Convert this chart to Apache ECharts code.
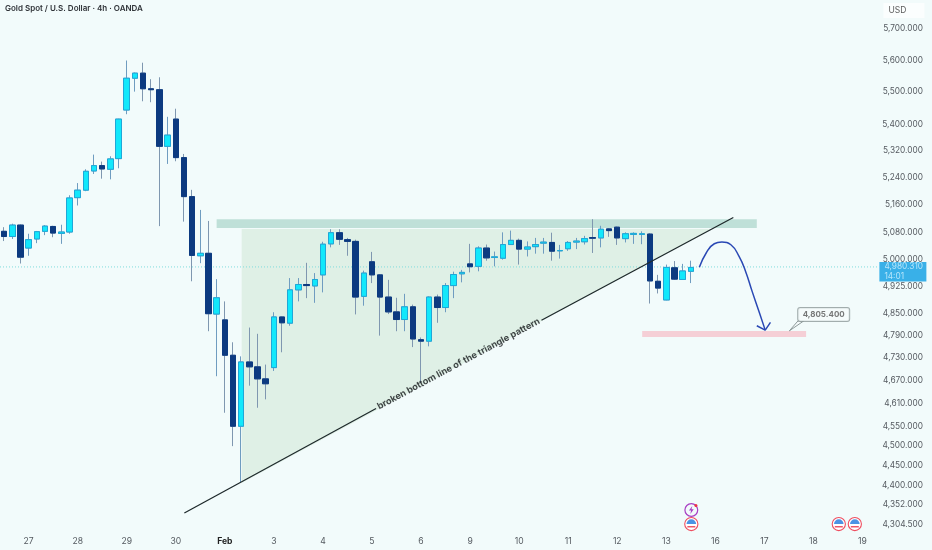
<!DOCTYPE html>
<html>
<head>
<meta charset="utf-8">
<style>html,body{margin:0;padding:0;background:#f2fbfb}#c{width:932px;height:550px}</style>
<script src="https://cdn.jsdelivr.net/npm/echarts@6/dist/echarts.min.js"></script>
</head>
<body>
<div id="c"></div>
<script>
const open_ = [5082,5067,5100,5034,5060,5082,5096,5076,5080,5180,5202,5259,5275,5264,5296,5444,5543,5559,5510,5507,5333,5416,5299,5183,5012,5019,4849,4833,4737,4550,4719,4706,4674,4704,4841,4824,4916,4931,4927,4958,5046,5078,5058,5053,4898,4995,4958,4896,4855,4834,4869,4779,4775,4896,4867,4928,4961,4989,4982,5034,5007,5005,5044,5056,5031,5038,5048,5050,5026,5032,5051,5052,5064,5063,5089,5094,5061,5073,5073,5074,4940,4888,4978,4945,4968];
const close_ = [5067,5100,5008,5058,5081,5097,5077,5080,5179,5202,5258,5275,5265,5295,5416,5543,5559,5510,5507,5333,5367,5299,5183,5013,5019,4850,4894,4737,4550,4719,4706,4674,4661,4841,4825,4916,4931,4928,4945,5045,5078,5059,5053,4896,4963,4958,4896,4855,4834,4869,4781,4775,4896,4867,4928,4959,4965,4981,5034,5006,5009,5044,5056,5031,5037,5044,5051,5025,5027,5050,5054,5061,5062,5088,5084,5063,5075,5076,5075,4941,4921,4979,4946,4969,4979];
const high_ = [5094,5104,5102,5075,5083,5100,5098,5101,5187,5223,5264,5308,5287,5303,5417,5599,5561,5592,5540,5546,5423,5448,5310,5203,5144,5112,4946,4884,4772,4734,4812,4795,4712,4854,4842,4949,4949,4992,4963,5052,5088,5088,5063,5058,4970,5023,4960,4944,4894,4905,4875,4785,4898,4903,4935,4967,4972,5046,5039,5044,5024,5079,5084,5061,5053,5063,5063,5078,5043,5054,5063,5069,5117,5098,5091,5096,5079,5079,5082,5077,4958,4987,4997,4989,4998];
const low_ = [5054,5060,4990,5012,5048,5071,5065,5046,5075,5157,5199,5250,5236,5234,5267,5431,5501,5471,5468,5097,5280,5288,5110,4940,4991,4802,4681,4585,4499,4408,4656,4598,4620,4695,4745,4817,4884,4893,4880,4909,5036,5043,5012,4848,4872,4935,4790,4849,4802,4802,4759,4664,4761,4825,4854,4893,4937,4965,4968,4998,4982,5001,5043,4987,5010,5018,5018,4998,5004,5026,5031,5044,5020,5036,5066,5043,5050,5046,5045,4878,4906,4887,4944,4944,4935];

const slotCount = 114;
const dayTicks = [[3,'27'],[9,'28'],[15,'29'],[21,'30'],[27,'Feb'],[33,'3'],[39,'4'],[45,'5'],[51,'6'],[57,'9'],[63,'10'],[69,'11'],[75,'12'],[81,'13'],[87,'16'],[93,'17'],[99,'18'],[105,'19']];
const priceTicks = [5700,5600,5500,5400,5320,5240,5160,5080,5000,4925,4850,4790,4730,4670,4610,4550,4500,4450,4400,4352,4304.5];
const lastPrice = 4980.31;
const targetPrice = 4805.4;

const triangleShade = [[29.06,5089],[29.06,4406],[86.57,5089]];
const resistanceBand = [[26,5116.8],[92.07,5116.8],[92.07,5091.6],[26,5091.6]];
const targetBand = [[78.05,4802.7],[98.1,4802.7],[98.1,4786.3],[78.05,4786.3]];
const calloutTail = [[96.05,4803],[97.1,4830],[97.8,4830]];
const trendLine = [[22.05,4331.5],[45.5,4596],'-',[65.73,4832],[89.2,5122]];
const arcPath = [[85.04,4979.3],[85.88,5019.8],[86.87,5046.3],[87.8,5051.1],[88.9,5043.4],[89.9,5010.2],[90.7,4967.7],[91.5,4911.8],[92.4,4852.1],[93.1,4805]];
const arrowHead = [[92.07,4817],[93.1,4805],[93.74,4826]];
const eventBolt = [[84.06,4339]];
const eventFlags = [[84.06,4304.5],[102.1,4304.5],[104.06,4304.5]];

const fmt = v => v.toLocaleString('en-US',{minimumFractionDigits:3,maximumFractionDigits:3});
const categories = Array.from({length:slotCount},(_,i)=>{const t=dayTicks.find(d=>d[0]===i);return t?t[1]:'';});
const TEXT='#555a60';
const polys=[
 {pts:triangleShade,fill:'#dff0e6'},
 {pts:resistanceBand,fill:'#bfe0d8'},
 {pts:targetBand,fill:'#f5cfd6'}
];
const ohlc = open_.map((o,i)=>[o,close_[i],low_[i],high_[i]]);
const bodies = open_.map((o,i)=>[o,close_[i],Math.min(o,close_[i]),Math.max(o,close_[i])]);

const chart = echarts.init(document.getElementById('c'),null,{renderer:'canvas'});
chart.setOption({
 animation:false,
 backgroundColor:'#f2fbfb',
 title:{text:'Gold Spot / U.S. Dollar · 4h · OANDA',left:5,top:5,padding:0,textStyle:{fontFamily:'Inter',fontSize:8,fontWeight:600,color:'#2f3338'}},
 grid:{left:-1.4,top:0,width:934.8,height:530,containLabel:false},
 xAxis:[
  {type:'category',data:categories,axisLine:{show:false},axisTick:{show:false},splitLine:{show:false},
   axisLabel:{margin:7,interval:(i)=>categories[i]!=='',fontFamily:'Inter',fontSize:8.6,color:TEXT,hideOverlap:false,
    formatter:v=>v==='Feb'?'{b|Feb}':v,rich:{b:{fontWeight:700,fontFamily:'Inter',fontSize:8.6,color:'#222'}}}},
  {type:'value',show:false,min:-0.5,max:slotCount-0.5}
 ],
 yAxis:{type:'log',position:'right',min:4290,max:5794.5,axisLine:{show:false},axisTick:{show:false},splitLine:{show:false},minorTick:{show:false},
  axisLabel:{inside:true,margin:9,customValues:priceTicks,fontFamily:'Inter',fontSize:8.3,color:TEXT,formatter:v=>fmt(v)}},
 series:[
  {type:'custom',name:'zones',xAxisIndex:1,clip:false,z:1,silent:true,data:polys.map((_,i)=>i),
   renderItem:(p,api)=>{const s=polys[p.dataIndex];return{type:'polygon',shape:{points:s.pts.map(q=>api.coord(q))},style:{fill:s.fill}};}},
  {type:'line',name:'last price',xAxisIndex:1,z:2,symbol:'none',silent:true,data:[[-0.5,lastPrice],[107,lastPrice]],lineStyle:{color:'#7fdcdc',width:1,type:[1,2]}},
  {type:'candlestick',name:'wicks',barWidth:6,z:3,silent:true,data:ohlc,itemStyle:{color:'rgba(0,0,0,0)',color0:'rgba(0,0,0,0)',borderColor:'#6f9cc0',borderColor0:'#7f97b0',borderWidth:1}},
  {type:'candlestick',name:'XAUUSD',barWidth:6,z:4,silent:true,data:bodies,itemStyle:{color:'#12e8fb',color0:'#0c3a80',borderColor:'#1fa8d8',borderColor0:'#0c3a80',borderWidth:1}},
  {type:'line',name:'bottom line',xAxisIndex:1,z:5,symbol:'none',silent:true,connectNulls:false,data:trendLine,lineStyle:{color:'#1f2a2c',width:1.3}},
  {type:'line',name:'arc',xAxisIndex:1,z:5,symbol:'none',silent:true,smooth:0.5,data:arcPath,lineStyle:{color:'#2a48b4',width:1.5}},
  {type:'line',name:'arrow head',xAxisIndex:1,z:5,symbol:'none',silent:true,data:arrowHead,lineStyle:{color:'#2a48b4',width:1.5}},
  {type:'custom',name:'tail',xAxisIndex:1,clip:false,z:5,silent:true,data:[0],
   renderItem:(p,api)=>({type:'polygon',shape:{points:calloutTail.map(q=>api.coord(q))},style:{fill:'#f5fbfb',stroke:'#8d9a9a',lineWidth:1}})},
  {type:'scatter',name:'labels',xAxisIndex:1,z:6,clip:false,symbolSize:0,silent:true,
   data:[
    {value:[55.6,4714],label:{show:true,position:'inside',formatter:'broken bottom line of the triangle pattern',rotate:28.2,fontFamily:'Inter',fontSize:9.2,fontWeight:700,color:'#14181a'}},
    {value:[100.25,4847.5],label:{show:true,position:'inside',formatter:fmt(targetPrice),fontFamily:'Inter',fontSize:8,fontWeight:700,color:'#555',backgroundColor:'#f5fbfb',borderColor:'#8d9a9a',borderWidth:1,borderRadius:2,width:51,height:13,lineHeight:13,align:'center',verticalAlign:'middle'}},
    {value:[110,5760],label:{show:true,position:'inside',formatter:'USD',fontFamily:'Inter',fontSize:8.5,color:'#333',backgroundColor:'#fdffff',width:36,height:15,lineHeight:15,padding:[0,0,0,5],align:'left',offset:[-20,0]}},
    {value:[110,lastPrice],label:{show:true,position:'inside',formatter:fmt(lastPrice)+'\n14:01',fontFamily:'Inter',fontSize:8.3,lineHeight:9.5,color:'#d5f2ff',backgroundColor:'#0a9ee3',width:42,height:19.5,padding:[0,0,0,5],align:'left',offset:[-24,4.7]}}
   ]},
  {type:'custom',name:'events',xAxisIndex:1,clip:false,z:6,silent:true,data:eventFlags.map(e=>e.slice()),
   renderItem:(p,api)=>{const c=api.coord(eventFlags[p.dataIndex]);return{type:'group',x:c[0],y:c[1],children:[
     {type:'circle',shape:{r:6.6},style:{fill:'#fff',stroke:'#ee4e60',lineWidth:1.1}},
     {type:'sector',shape:{r:4.8,startAngle:Math.PI,endAngle:Math.PI*2},style:{fill:'#4c93e4'}},
     {type:'rect',shape:{x:-4,y:2,width:8,height:1.4},style:{fill:'#ee4e60'}}
   ]};}},
  {type:'custom',name:'bolt',xAxisIndex:1,clip:false,z:6,silent:true,data:[0],
   renderItem:(p,api)=>{const c=api.coord(eventBolt[0]);return{type:'group',x:c[0],y:c[1],children:[
     {type:'circle',shape:{r:6.4},style:{fill:'#f2fbfb',stroke:'#a83ec4',lineWidth:1.2}},
     {type:'polygon',shape:{points:[[1,-4],[-2.4,0.6],[-0.2,0.6],[-1,4],[2.4,-0.8],[0.2,-0.8]]},style:{fill:'#a83ec4'}},
     {type:'circle',shape:{cx:4.6,cy:-4.6,r:1.5},style:{fill:'#ee3344'}}
   ]};}}
 ]
});
</script>
</body>
</html>
